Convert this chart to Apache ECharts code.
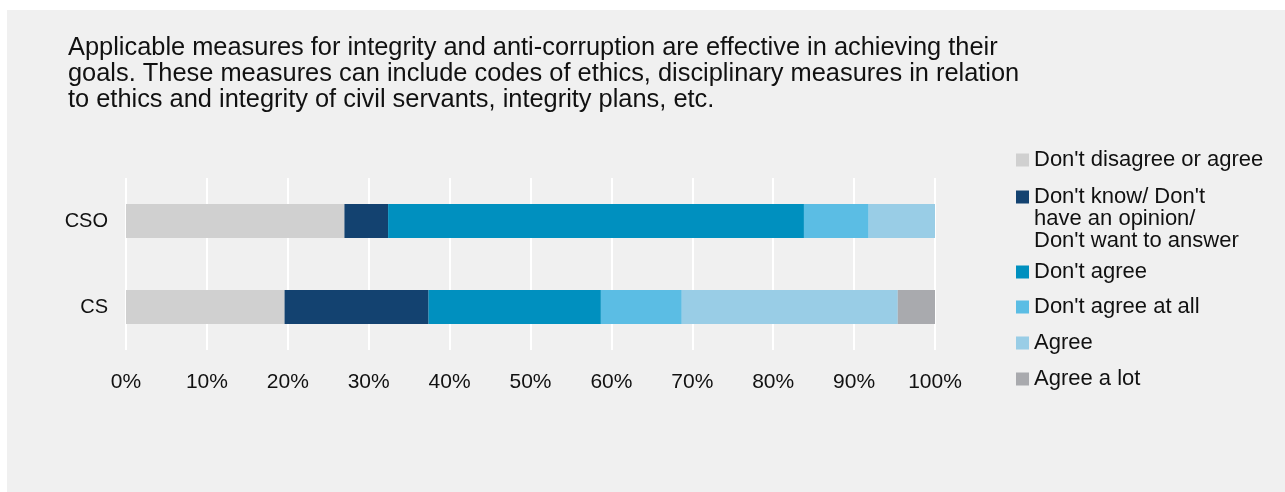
<!DOCTYPE html>
<html>
<head>
<meta charset="utf-8">
<script src="https://cdn.jsdelivr.net/npm/echarts@6/dist/echarts.min.js"></script>
<style>
  html, body { margin: 0; padding: 0; background: #ffffff; }
  #chart { width: 1285px; height: 492px; }
</style>
</head>
<body>
<div id="chart"></div>
<script>
// Survey responses (percent of respondents), stacked per group
const categories = ['CS', 'CSO'];
const seriesNames = [
  "Don't disagree or agree",
  "Don't know/ Don't\nhave an opinion/\nDon't want to answer",
  "Don't agree",
  "Don't agree at all",
  "Agree",
  "Agree a lot"
];
const neutral      = [19.6, 27.0];
const dontKnow     = [17.8, 5.4];
const dontAgree    = [21.3, 51.4];
const dontAgreeAll = [10.0, 8.0];
const agree        = [26.7, 8.2];
const agreeALot    = [4.6, 0];
const xTicks = { min: 0, max: 100, interval: 10 };

const colors = ['#d0d0d0', '#134270', '#0090bf', '#5bbde4', '#99cde6', '#a9aaae'];
const values = [neutral, dontKnow, dontAgree, dontAgreeAll, agree, agreeALot];

const font = "'Liberation Sans', Arial, sans-serif";
const textColor = '#111111';

const chart = echarts.init(document.getElementById('chart'), null, { renderer: 'canvas' });

// one legend per entry so each can be placed on its own row;
// the multi-line entry gets two blank lines on top so its icon sits on the first text line
const legendTops = [149, 142, 261, 296, 332, 368];
const legends = seriesNames.map((name, i) => ({
  data: [name],
  orient: 'vertical',
  left: 1016,
  top: legendTops[i],
  padding: 0,
  icon: 'rect',
  itemWidth: 13,
  itemHeight: 13,
  selectedMode: false,
  formatter: n => (n.indexOf('\n') >= 0 ? '\n\n' + n : n),
  textStyle: {
    fontFamily: font,
    fontSize: 22,
    color: textColor,
    lineHeight: 22
  }
}));

chart.setOption({
  backgroundColor: '#ffffff',
  animation: false,
  color: colors,
  graphic: [{
    type: 'rect',
    z: -10,
    shape: { x: 7, y: 10, width: 1278, height: 482 },
    style: { fill: '#f0f0f0' },
    silent: true
  }],
  title: {
    text: 'Applicable measures for integrity and anti-corruption are effective in achieving their\ngoals. These measures can include codes of ethics, disciplinary measures in relation\nto ethics and integrity of civil servants, integrity plans, etc.',
    left: 68,
    top: 35,
    padding: 0,
    textStyle: {
      fontFamily: font,
      fontSize: 25.4,
      fontWeight: 'normal',
      color: textColor,
      lineHeight: 26
    }
  },
  legend: legends,
  grid: { left: 126, right: 350, top: 178, bottom: 142, containLabel: false },
  xAxis: {
    type: 'value',
    min: xTicks.min,
    max: xTicks.max,
    interval: xTicks.interval,
    axisLine: { show: false },
    axisTick: { show: false },
    splitLine: { show: true, lineStyle: { color: '#ffffff', width: 2 } },
    axisLabel: {
      formatter: '{value}%',
      fontFamily: font,
      fontSize: 21,
      color: textColor,
      margin: 22
    }
  },
  yAxis: {
    type: 'category',
    data: categories,
    axisLine: { show: false },
    axisTick: { show: false },
    splitLine: { show: false },
    axisLabel: {
      fontFamily: font,
      fontSize: 20,
      color: textColor,
      margin: 18
    }
  },
  series: seriesNames.map((name, i) => ({
    name: name,
    type: 'bar',
    stack: 'total',
    barWidth: 34,
    data: values[i],
    itemStyle: { color: colors[i] },
    emphasis: { disabled: true }
  }))
});
</script>
</body>
</html>
